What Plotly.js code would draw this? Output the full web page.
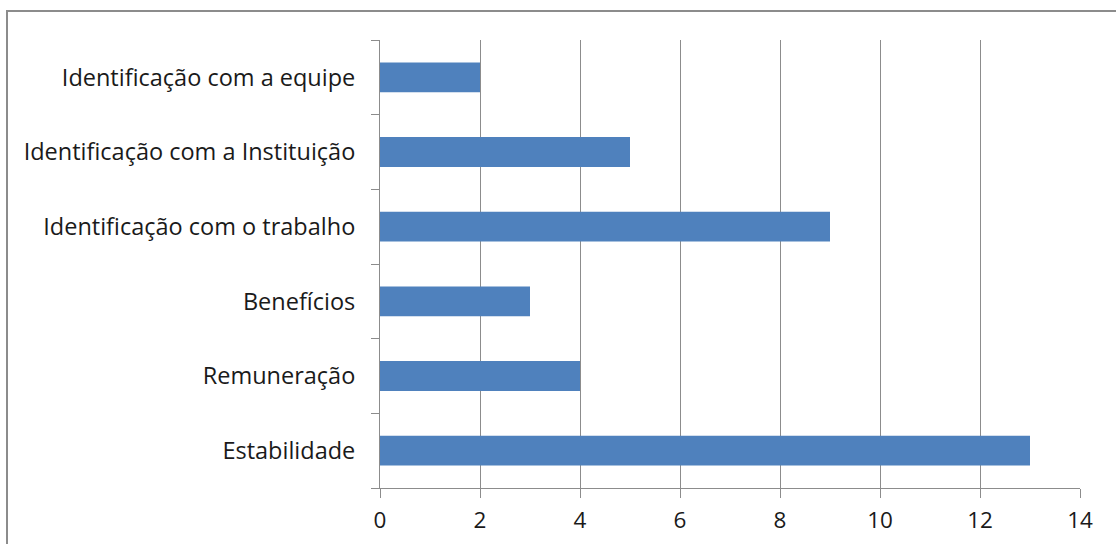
<!DOCTYPE html>
<html><head><meta charset="utf-8">
<script src="https://cdn.plot.ly/plotly-3.0.1.min.js"></script>
<style>
body{margin:0;background:#fff;}
#wrap{position:relative;width:1116px;height:544px;overflow:hidden;}
#chart{position:absolute;left:0;top:0;width:1116px;height:544px;}
#frame{position:absolute;left:6px;top:10px;width:1200px;height:600px;border:2px solid #8c8c8c;pointer-events:none;}
</style></head>
<body><div id="wrap"><div id="chart"></div><div id="frame"></div></div>
<script>
const categories = ['Estabilidade','Remuneração','Benefícios','Identificação com o trabalho','Identificação com a Instituição','Identificação com a equipe'];
const values = [13, 4, 3, 9, 5, 2];
const xTicks = [0, 2, 4, 6, 8, 10, 12, 14];

const trace = {type:'bar', orientation:'h', y:categories, x:values, marker:{color:'#4F81BD'}, hoverinfo:'x+y'};
const fontFam = '"Open Sans", sans-serif';
const layout = {
  width:1116, height:544,
  margin:{l:380, r:36, t:40, b:56, pad:0},
  paper_bgcolor:'rgba(0,0,0,0)', plot_bgcolor:'#fff',
  bargap:0.6,
  showlegend:false,
  font:{family:fontFam, size:23.5, color:'#1a1a1a'},
  xaxis:{range:[0,14], tickvals:xTicks, ticktext:xTicks.map(String), showgrid:true, gridcolor:'#8c8c8c', gridwidth:1,
         showline:true, linecolor:'#8c8c8c', linewidth:1, ticks:'outside', ticklen:9, tickcolor:'#8c8c8c', ticklabelstandoff:3,
         zeroline:false, fixedrange:true, tickfont:{family:fontFam, size:22.5, color:'#1a1a1a'}},
  yaxis:{type:'category', categoryorder:'array', categoryarray:categories, showgrid:false, showline:true, linecolor:'#8c8c8c', linewidth:1,
         ticks:'outside', tickson:'boundaries', ticklen:8, tickcolor:'#8c8c8c', ticklabelstandoff:19,
         zeroline:false, fixedrange:true, tickfont:{family:fontFam, size:23.5, color:'#1a1a1a'}}
};
Plotly.newPlot('chart',[trace],layout,{displayModeBar:false, staticPlot:true});
</script></body></html>
